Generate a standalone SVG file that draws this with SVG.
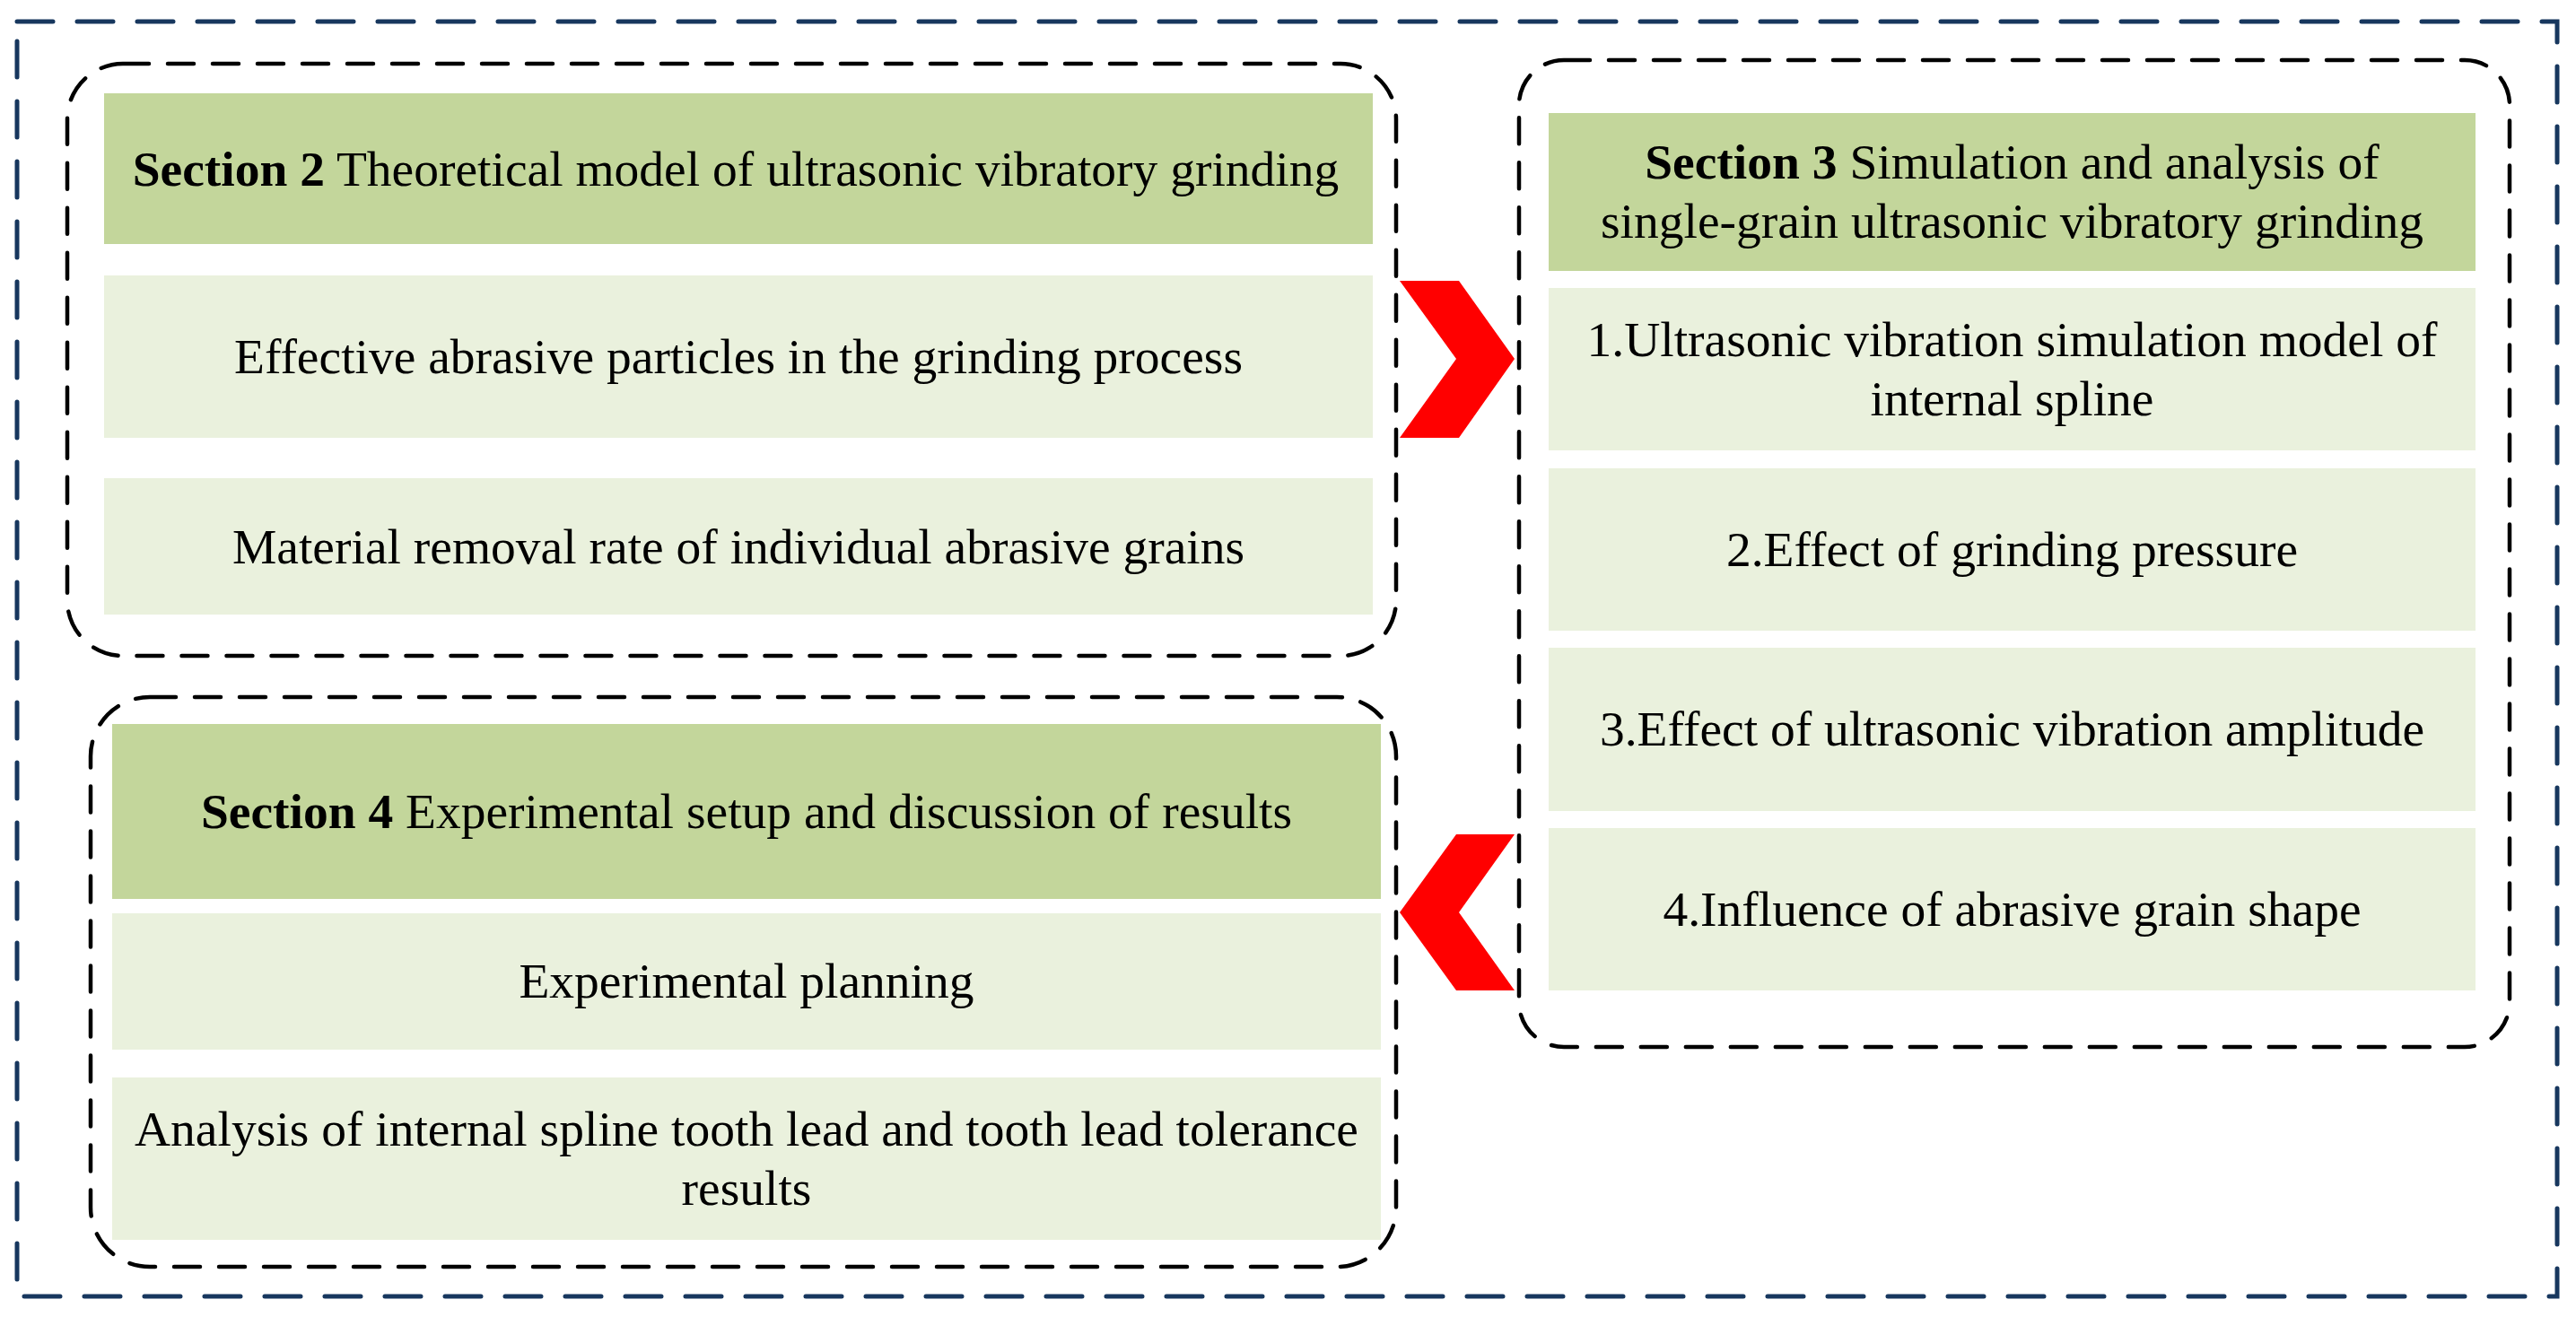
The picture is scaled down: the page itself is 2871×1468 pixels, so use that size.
<svg xmlns="http://www.w3.org/2000/svg" width="2871" height="1468" viewBox="0 0 2871 1468">
  <style>
    .outer { fill: none; stroke: #17375E; stroke-width: 5; stroke-dasharray: 40 27; stroke-linecap: round; }
    .group { fill: none; stroke: #000000; stroke-width: 4.5; stroke-dasharray: 29 21; stroke-linecap: round; }
    .head { fill: #C3D69B; }
    .item { fill: #EAF1DD; }
    text { font-family: "Liberation Serif", "Times New Roman", serif; font-size: 55.5px; fill: #000000; text-anchor: middle; }
    .b { font-weight: bold; }
    .chev { fill: #FF0000; stroke: none; }
  </style>
  <rect width="2871" height="1468" fill="#FFFFFF"/>
  <rect id="frame" class="outer" x="19" y="24" width="2831" height="1421"/>

  <g id="section2">
    <rect class="group" x="75" y="71" width="1481" height="660" rx="62" ry="62"/>
    <g id="s2-header">
      <rect class="head" x="116" y="104" width="1414" height="168"/>
      <text x="820" y="207"><tspan class="b">Section 2</tspan> Theoretical model of ultrasonic vibratory grinding</text>
    </g>
    <g id="s2-item1">
      <rect class="item" x="116" y="307" width="1414" height="181"/>
      <text x="823" y="416">Effective abrasive particles in the grinding process</text>
    </g>
    <g id="s2-item2">
      <rect class="item" x="116" y="533" width="1414" height="152"/>
      <text x="823" y="628">Material removal rate of individual abrasive grains</text>
    </g>
  </g>

  <g id="section3">
    <rect class="group" x="1693" y="67" width="1104" height="1100" rx="50" ry="50"/>
    <g id="s3-header">
      <rect class="head" x="1726" y="126" width="1033" height="176"/>
      <text x="2242.5" y="199"><tspan class="b">Section 3</tspan> Simulation and analysis of</text>
      <text x="2242.5" y="265">single-grain ultrasonic vibratory grinding</text>
    </g>
    <g id="s3-item1">
      <rect class="item" x="1726" y="321" width="1033" height="181"/>
      <text x="2242.5" y="397">1.Ultrasonic vibration simulation model of</text>
      <text x="2242.5" y="463">internal spline</text>
    </g>
    <g id="s3-item2">
      <rect class="item" x="1726" y="522" width="1033" height="181"/>
      <text x="2242.5" y="631">2.Effect of grinding pressure</text>
    </g>
    <g id="s3-item3">
      <rect class="item" x="1726" y="722" width="1033" height="182"/>
      <text x="2242.5" y="831">3.Effect of ultrasonic vibration amplitude</text>
    </g>
    <g id="s3-item4">
      <rect class="item" x="1726" y="923" width="1033" height="181"/>
      <text x="2242.5" y="1032">4.Influence of abrasive grain shape</text>
    </g>
  </g>

  <g id="section4">
    <rect class="group" x="101" y="777" width="1455" height="635" rx="66" ry="66"/>
    <g id="s4-header">
      <rect class="head" x="125" y="807" width="1414" height="195"/>
      <text x="832" y="923"><tspan class="b">Section 4</tspan> Experimental setup and discussion of results</text>
    </g>
    <g id="s4-item1">
      <rect class="item" x="125" y="1018" width="1414" height="152"/>
      <text x="832" y="1112">Experimental planning</text>
    </g>
    <g id="s4-item2">
      <rect class="item" x="125" y="1201" width="1414" height="181"/>
      <text x="832" y="1277">Analysis of internal spline tooth lead and tooth lead tolerance</text>
      <text x="832" y="1343">results</text>
    </g>
  </g>

  <g id="connectors">
    <polygon id="arrow-2-to-3" class="chev" points="1560,313 1626,313 1688,400 1626,488 1560,488 1623,400"/>
    <polygon id="arrow-3-to-4" class="chev" points="1623,930 1688,930 1626,1017 1688,1104 1623,1104 1560,1017"/>
  </g>
</svg>
